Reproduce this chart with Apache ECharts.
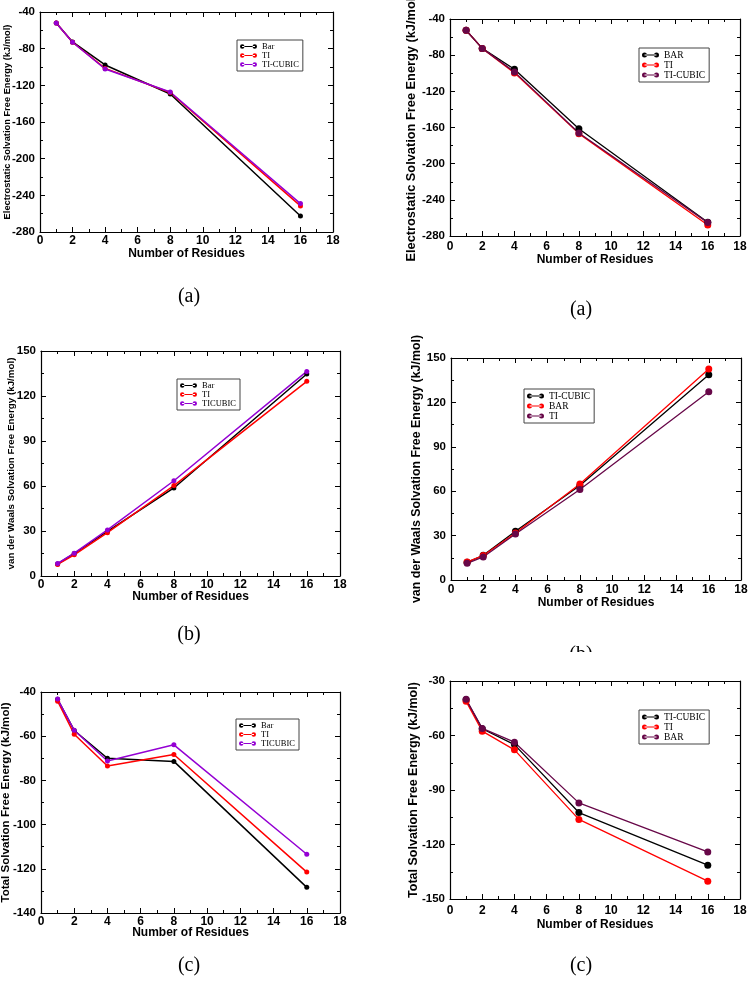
<!DOCTYPE html>
<html>
<head>
<meta charset="utf-8">
<script src="https://cdn.jsdelivr.net/npm/echarts@6/dist/echarts.min.js"></script>
<style>
  html, body { margin: 0; padding: 0; background: #fff; }
  #chart { width: 750px; height: 984px; }
</style>
</head>
<body>
<div id="chart"></div>
<script>
const residues = [1, 2, 4, 8, 16]

// (a) electrostatic, left figure
const elecLeftBar = [-52, -72.7, -97.8, -129.5, -262.5]
const elecLeftTI = [-52, -73, -101.5, -127.8, -251.5]
const elecLeftTICubic = [-52, -73, -102.2, -127.3, -249]
// (a) electrostatic, right figure
const elecRightBAR = [-52.4, -72.5, -95.6, -161.4, -264.9]
const elecRightTI = [-52.4, -72.5, -99.6, -166.8, -267.8]
const elecRightTICubic = [-52.4, -72.5, -98.5, -166, -265.2]

// (b) van der Waals, left
const vdwLeftBar = [8.0, 15.0, 29.8, 58.7, 134.7]
const vdwLeftTI = [7.7, 14.1, 28.9, 60.3, 129.8]
const vdwLeftTICubic = [8.4, 15.2, 30.7, 63.5, 136.4]
// (b) van der Waals, right
const vdwRightTICubic = [12, 16.7, 32.9, 63.8, 138.7]
const vdwRightBAR = [12.2, 16.5, 31.8, 64.8, 142.6]
const vdwRightTI = [11.3, 15.6, 31.1, 61.1, 127.2]

// (c) total, left
const totLeftBar = [-43.3, -57.4, -70.0, -71.4, -128.4]
const totLeftTI = [-44.2, -59.1, -73.5, -68.3, -121.5]
const totLeftTICubic = [-43.2, -57.3, -71.2, -63.9, -113.4]
// (c) total, right
const totRightTICubic = [-40.3, -56.3, -65, -102.4, -131.4]
const totRightTI = [-41.2, -57.6, -67.9, -106.2, -140.2]
const totRightBAR = [-40.1, -56.1, -63.7, -97.1, -124.1]

const xTicks = {min: 0, max: 18, step: 2}

const COLORS = {black: '#000000', red: '#ff0000', violet: '#9400d3', maroon: '#670748'}

const ELEC = 'Electrostatic Solvation Free Energy (kJ/mol)'
const VDW = 'van der Waals Solvation Free Energy (kJ/mol)'
const TOT = 'Total Solvation Free Energy (kJ/mol)'

// layout per panel: grid [left, top, width, height]
const panels = [
  {grid: [40, 12, 293, 220], y: [-280, -40, 40], yName: ELEC, yNameSize: 9.3, yNameGap: 28, xMargin: 3, xNameGap: 15.5, legend: [237, 40], big: false,
    series: [['Bar', elecLeftBar, 'black'], ['TI', elecLeftTI, 'red'], ['TI-CUBIC', elecLeftTICubic, 'violet']]},
  {grid: [450, 19, 290, 217], y: [-280, -40, 40], yName: ELEC, yNameSize: 12.8, yNameGap: 32, xMargin: 5, xNameGap: 17.5, legend: [639, 48], big: true,
    series: [['BAR', elecRightBAR, 'black'], ['TI', elecRightTI, 'red'], ['TI-CUBIC', elecRightTICubic, 'maroon']]},
  {grid: [41, 351, 299, 225], y: [0, 150, 30], yName: VDW, yNameSize: 9.8, yNameGap: 25, xMargin: 3, xNameGap: 15, legend: [177, 379], big: false,
    series: [['Bar', vdwLeftBar, 'black'], ['TI', vdwLeftTI, 'red'], ['TICUBIC', vdwLeftTICubic, 'violet']]},
  {grid: [451, 358, 290, 222], y: [0, 150, 30], yName: VDW, yNameSize: 12.4, yNameGap: 28, xMargin: 4, xNameGap: 16.5, legend: [524, 389], big: true,
    series: [['TI-CUBIC', vdwRightTICubic, 'black'], ['BAR', vdwRightBAR, 'red'], ['TI', vdwRightTI, 'maroon']]},
  {grid: [41, 692, 299, 221], y: [-140, -40, 20], yName: TOT, yNameSize: 11.6, yNameGap: 29, xMargin: 3, xNameGap: 14, legend: [236, 719], big: false,
    series: [['Bar', totLeftBar, 'black'], ['TI', totLeftTI, 'red'], ['TICUBIC', totLeftTICubic, 'violet']]},
  {grid: [450, 681, 290, 218], y: [-150, -30, 30], yName: TOT, yNameSize: 12.5, yNameGap: 30, xMargin: 6, xNameGap: 20, legend: [639, 710], big: true,
    series: [['TI-CUBIC', totRightTICubic, 'black'], ['TI', totRightTI, 'red'], ['BAR', totRightBAR, 'maroon']]},
]

const captions = [
  ['(a)', 189, 297], ['(a)', 581, 310],
  ['(b)', 189, 635], ['(b)', 581, 655],
  ['(c)', 189, 966], ['(c)', 581, 966],
]

// legend icon: dot - line - dot
const iconSmall = 'path://M0,4.5a4.5,4.5 0 1,0 9,0a4.5,4.5 0 1,0 -9,0zM25,4.5a4.5,4.5 0 1,0 9,0a4.5,4.5 0 1,0 -9,0zM4,3.5h26v2h-26z'
const iconBig = 'path://M0,5a5,5 0 1,0 10,0a5,5 0 1,0 -10,0zM24,5a5,5 0 1,0 10,0a5,5 0 1,0 -10,0zM5,4.1h24v1.8h-24z'

const SANS = '"Liberation Sans", Arial, Helvetica, sans-serif'
const SERIF = '"Liberation Serif", "Times New Roman", serif'

const option = {
  animation: false,
  backgroundColor: '#ffffff',
  grid: [], xAxis: [], yAxis: [], series: [], legend: [], graphic: [],
}

panels.forEach((p, i) => {
  const [left, top, width, height] = p.grid
  option.grid.push({left, top, width, height, containLabel: false, outerBoundsMode: 'none', show: false})

  const axisLine = {show: true, onZero: false, lineStyle: {color: '#000', width: 1.2}}
  const axisTick = {show: true, inside: true, length: 5, lineStyle: {color: '#000', width: 1}}
  const minorTick = {show: true, splitNumber: 2, length: 3, lineStyle: {color: '#000', width: 1}}
  const bold = {fontFamily: SANS, fontWeight: 'bold', color: '#000'}

  // x bottom + mirrored top
  option.xAxis.push({
    gridIndex: i, type: 'value', position: 'bottom',
    min: xTicks.min, max: xTicks.max, interval: xTicks.step,
    axisLine, axisTick, minorTick, splitLine: {show: false},
    axisLabel: {...bold, fontSize: 12, margin: p.xMargin, showMinLabel: true, showMaxLabel: true},
    name: 'Number of Residues', nameLocation: 'middle', nameGap: p.xNameGap, nameMoveOverlap: false,
    nameTextStyle: {...bold, fontSize: 12},
  })
  option.xAxis.push({
    gridIndex: i, type: 'value', position: 'top',
    min: xTicks.min, max: xTicks.max, interval: xTicks.step,
    axisLine, axisTick, minorTick, splitLine: {show: false}, axisLabel: {show: false},
  })

  // y left + mirrored right
  const [ymin, ymax, ystep] = p.y
  option.yAxis.push({
    gridIndex: i, type: 'value', position: 'left',
    min: ymin, max: ymax, interval: ystep,
    axisLine, axisTick, minorTick, splitLine: {show: false},
    axisLabel: {...bold, fontSize: 11.5, margin: 5, showMinLabel: true, showMaxLabel: true},
    name: p.yName, nameLocation: 'middle', nameGap: p.yNameGap, nameMoveOverlap: false,
    nameTextStyle: {...bold, fontSize: p.yNameSize},
  })
  option.yAxis.push({
    gridIndex: i, type: 'value', position: 'right',
    min: ymin, max: ymax, interval: ystep,
    axisLine, axisTick, minorTick, splitLine: {show: false}, axisLabel: {show: false},
  })

  const names = []
  p.series.forEach(([label, values, colorKey]) => {
    const color = COLORS[colorKey]
    const name = label + '|' + i
    names.push(name)
    option.series.push({
      type: 'line', name,
      xAxisIndex: 2 * i, yAxisIndex: 2 * i,
      data: residues.map((x, k) => [x, values[k]]),
      symbol: 'circle', symbolSize: p.big ? 7 : 5,
      lineStyle: {color, width: p.big ? 1.3 : 1.5},
      itemStyle: {color},
      emphasis: {disabled: true},
    })
  })

  option.legend.push({
    left: p.legend[0], top: p.legend[1], orient: 'vertical',
    data: names, formatter: (n) => n.split('|')[0],
    selectedMode: false,
    backgroundColor: '#fff', borderColor: '#444', borderWidth: 1,
    padding: [2, 4, 2, 3], itemGap: 0,
    itemWidth: 17, itemHeight: p.big ? 5 : 4.5,
    icon: p.big ? iconBig : iconSmall,
    textStyle: {fontFamily: SERIF, fontSize: p.big ? 9.5 : 8.5, lineHeight: p.big ? 9 : 8, color: '#000'},
  })
})

captions.forEach(([text, x, y]) => {
  option.graphic.push({
    type: 'text', x, y, z: 100,
    style: {text, font: '20px ' + SERIF, fill: '#000', align: 'center', verticalAlign: 'middle'},
  })
})
// the right (b) caption is cut off by the figure below it
option.graphic.push({type: 'rect', z: 101, shape: {x: 545, y: 652, width: 75, height: 16}, style: {fill: '#fff'}})

const chart = echarts.init(document.getElementById('chart'), null, {renderer: 'canvas'})
chart.setOption(option)
</script>
</body>
</html>
